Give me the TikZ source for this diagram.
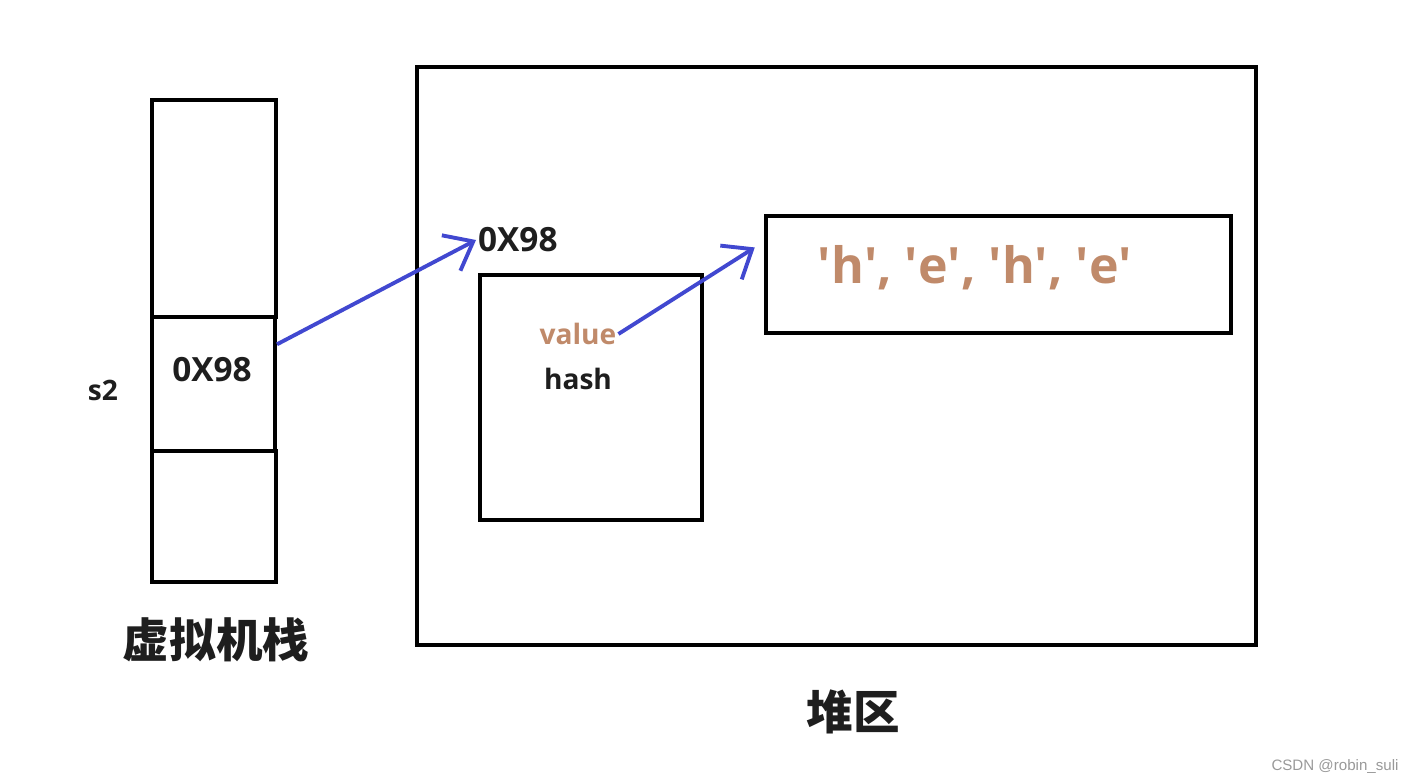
\documentclass[tikz,border=0pt]{standalone}
\usepackage{fontspec}
\setmainfont{Open Sans}
\newfontfamily\cjk{Noto Sans CJK SC}
\newfontfamily\wmfont{Liberation Sans}
\usepackage{xcolor}
\usetikzlibrary{arrows.meta, positioning}

\definecolor{ptrblue}{HTML}{4148D0}
\definecolor{charbrown}{HTML}{C08A6A}
\definecolor{inkdark}{HTML}{1E1E1E}

\newcommand{\q}[1]{\textquotesingle#1\textquotesingle}

\begin{document}
\begin{tikzpicture}[
    x=0.02cm, y=-0.02cm,
    >={Straight Barb[length=5mm, width=8mm]},
    box/.style={draw, line width=2.3pt, inner sep=0pt},
    ptr/.style={->, ptrblue, line width=2.2pt},
    lbl/.style={font=\bfseries\fontsize{19}{22}\selectfont, text=inkdark, inner sep=1pt},
    small/.style={font=\bfseries\fontsize{16}{19}\selectfont, inner sep=1pt},
    title/.style={font=\cjk\bfseries\fontsize{26.5}{30}\selectfont, text=inkdark}
]
\useasboundingbox (0,0) rectangle (1413,783);

% stack
\node[box, minimum width=2.48cm, minimum height=4.34cm] (stacktop) at (214,208.5) {};
\node[box, minimum width=2.48cm, minimum height=2.62cm] (stackbot) at (214,516.5) {};
\node[box, minimum width=2.46cm, minimum height=2.68cm] (stackmid) at (213.5,384) {};
\node[lbl] (stackval) at (212,370) {0X98};
\node[small, text=inkdark] (var) at (103,390) {s2};
\node[title] (stacktitle) at (216,640) {虚拟机栈};

% heap
\node[box, minimum width=16.78cm, minimum height=11.56cm] (heap) at (836.5,356) {};
\node[box, minimum width=4.44cm, minimum height=4.9cm] (obj) at (591,397.5) {};
\node[box, minimum width=9.3cm, minimum height=2.34cm] (chars) at (998.5,274.5) {};
\node[lbl, anchor=west] (addr) at (476,240) {0X98};
\node[small, text=charbrown] (value) at (578,334) {value};
\node[small, text=inkdark] (hash) at (578,379) {hash};
\node[font=\bfseries\fontsize{28.5}{32}\selectfont, text=charbrown] (str) at (975,268) {\q{h}, \q{e}, \q{h}, \q{e}};
\node[title] (heaptitle) at (853,712) {堆区};

\draw[ptr] (stackmid.32) -- (addr.west);
\draw[ptr, shorten >=0.22cm] (value.east) -- (chars.172);

\node[font=\wmfont\fontsize{8.6}{10}\selectfont, text=black!40] (mark) at (1335,767) {CSDN @robin\_suli};
\end{tikzpicture}
\end{document}
